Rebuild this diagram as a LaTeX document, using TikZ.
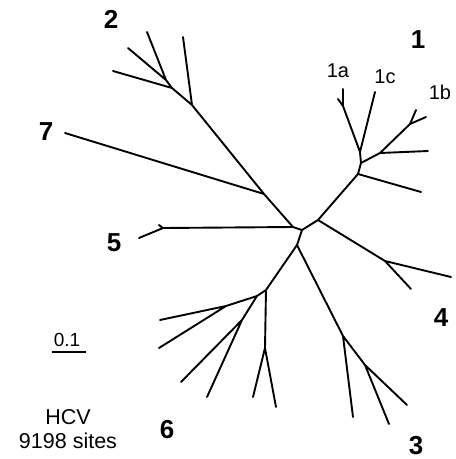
\documentclass[tikz,border=0pt]{standalone}
\usepackage{fontspec}
\setmainfont{Liberation Sans}
\begin{document}
\begin{tikzpicture}[x=1pt,y=-1pt,
  br/.style={line width=1.9pt,line cap=round,line join=round},
  big/.style={font=\fontsize{26}{26}\selectfont\bfseries,inner sep=0pt},
  sub/.style={font=\fontsize{20}{20}\selectfont,inner sep=0pt},
  txt/.style={font=\fontsize{21.5}{24}\selectfont,inner sep=0pt,align=center}]
\useasboundingbox (0,0) rectangle (456,459);
% internal nodes
\coordinate (N0) at (293,227);
\coordinate (N1) at (302,230);
\coordinate (N2) at (318,220);
\coordinate (N3) at (297,245);
% clade 5
\coordinate (C5) at (163,228);
\coordinate (l5a) at (139,238);
\coordinate (l5b) at (159,225);
% clade 2 and 7
\coordinate (C27) at (264,194);
\coordinate (l7) at (65,133);
\coordinate (C2) at (192,105);
\coordinate (l2a) at (183,37);
\coordinate (A2) at (172,88);
\coordinate (l2b) at (113,71);
\coordinate (B2) at (166,80);
\coordinate (l2c) at (147,32);
\coordinate (l2d) at (128,48);
% clade 1
\coordinate (P1) at (358,174);
\coordinate (l1x) at (421,192);
\coordinate (Q1) at (361,163);
\coordinate (R1) at (360,152);
\coordinate (l1c) at (375,92);
\coordinate (S1) at (343,106);
\coordinate (l1a1) at (343,89);
\coordinate (l1a2) at (338,99);
\coordinate (T1) at (380,153);
\coordinate (l1y) at (428,151);
\coordinate (U1) at (410,124);
\coordinate (l1b1) at (416,110);
\coordinate (l1b2) at (426,117);
% clade 4
\coordinate (V4) at (385,261);
\coordinate (l4a) at (451,277);
\coordinate (l4b) at (411,289);
% clade 3
\coordinate (H3) at (343,336);
\coordinate (l3a) at (353,417);
\coordinate (I3) at (365,365);
\coordinate (l3b) at (407,405);
\coordinate (l3c) at (389,424);
% clade 6
\coordinate (E6) at (266,290);
\coordinate (G6) at (265,348);
\coordinate (l6a) at (253,397);
\coordinate (l6b) at (276,407);
\coordinate (C6) at (257,296);
\coordinate (D6) at (226,306);
\coordinate (l6c) at (160,320);
\coordinate (l6d) at (159,348);
\coordinate (F6) at (242,320);
\coordinate (l6e) at (181,382);
\coordinate (l6f) at (207,397);
% branches
\draw[br] (N0) -- (N1) (N1) -- (N2) (N1) -- (N3);
\draw[br] (N0) -- (C5) (C5) -- (l5a) (C5) -- (l5b);
\draw[br] (N0) -- (C27) (C27) -- (l7) (C27) -- (C2) (C2) -- (l2a) (C2) -- (A2)
  (A2) -- (l2b) (A2) -- (B2) (B2) -- (l2c) (B2) -- (l2d);
\draw[br] (N2) -- (P1) (P1) -- (l1x) (P1) -- (Q1) (Q1) -- (R1) (R1) -- (l1c)
  (R1) -- (S1) (S1) -- (l1a1) (S1) -- (l1a2) (Q1) -- (T1) (T1) -- (l1y)
  (T1) -- (U1) (U1) -- (l1b1) (U1) -- (l1b2);
\draw[br] (N2) -- (V4) (V4) -- (l4a) (V4) -- (l4b);
\draw[br] (N3) -- (H3) (H3) -- (l3a) (H3) -- (I3) (I3) -- (l3b) (I3) -- (l3c);
\draw[br] (N3) -- (E6) (E6) -- (G6) (G6) -- (l6a) (G6) -- (l6b) (E6) -- (C6)
  (C6) -- (D6) (D6) -- (l6c) (D6) -- (l6d) (C6) -- (F6) (F6) -- (l6e) (F6) -- (l6f);
% labels
\node[big] (t1) at (418,40) {1};
\node[sub] (t1a) at (338,71) {1a};
\node[sub] (t1c) at (385,77) {1c};
\node[sub] (t1b) at (440,92) {1b};
\node[big] (t2) at (111,19) {2};
\node[big] (t7) at (46,132) {7};
\node[big] (t5) at (114,243) {5};
\node[big] (t4) at (441,318) {4};
\node[big] (t3) at (416,446) {3};
\node[big] (t6) at (167,430) {6};
% scale bar
\node[font=\fontsize{19}{19}\selectfont,inner sep=0pt] (sc) at (67,340) {0.1};
\coordinate (sb1) at (52,352);
\coordinate (sb2) at (86,352);
\draw[line width=1.3pt] (sb1) -- (sb2);
\node[txt] (hcv) at (68,429) {HCV\\9198 sites};
\end{tikzpicture}
\end{document}
